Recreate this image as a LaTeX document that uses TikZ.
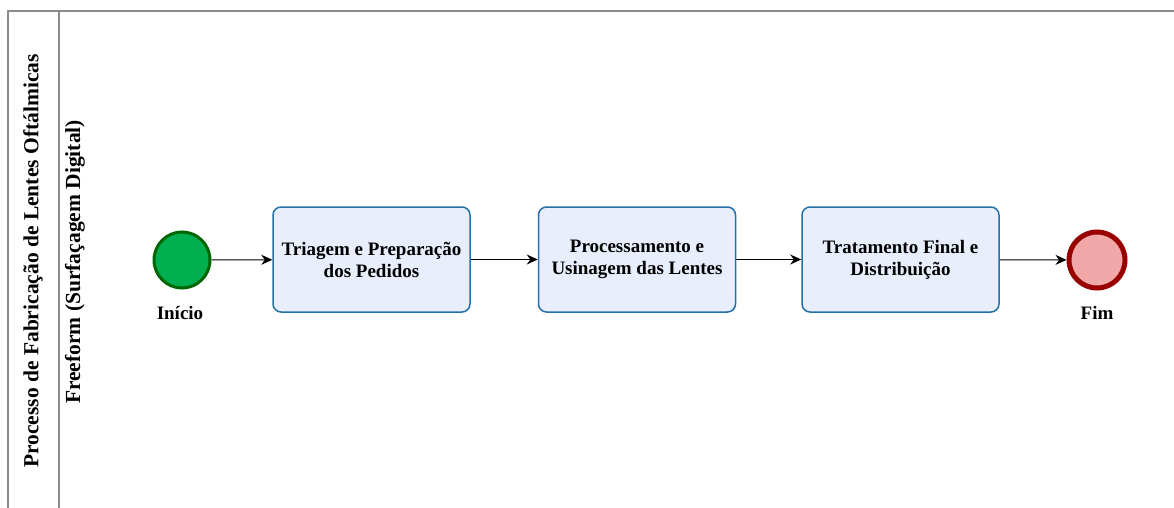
\documentclass[tikz,border=0pt]{standalone}
\usepackage{fontspec}
\setmainfont{Liberation Serif}
\usetikzlibrary{arrows.meta,positioning}
\definecolor{iniFill}{RGB}{0,176,80}
\definecolor{iniLine}{RGB}{0,102,0}
\definecolor{fimFill}{RGB}{240,168,168}
\definecolor{fimLine}{RGB}{153,0,0}
\definecolor{taskFill}{RGB}{232,238,252}
\definecolor{taskLine}{RGB}{36,112,168}
\definecolor{poolLine}{RGB}{140,140,140}
\begin{document}
\begin{tikzpicture}[x=1pt, y=-1pt, >={Stealth[length=11pt,width=10pt]},
    txt/.style={font=\bfseries\fontsize{19}{22}\selectfont},
    vtxt/.style={font=\bfseries\fontsize{21.5}{25}\selectfont, rotate=90},
    task/.style={txt, draw=taskLine, fill=taskFill, line width=1.5pt, rounded corners=8pt,
                 minimum width=197pt, minimum height=105pt, align=center},
    evento/.style={circle, minimum size=56pt, inner sep=0pt},
    pool/.style={poolLine, line width=1.3pt}]
    \useasboundingbox (0,0) rectangle (1174,508);
    % raia
    \draw[pool] (1174,11) -- (8,11) -- (8,508);
    \draw[pool] (59,11) -- (59,508);
    \node[vtxt] (pool) at (33,261) {Processo de Fabricação de Lentes Oftálmicas};
    \node[vtxt] (raia) at (75,262) {Freeform (Surfaçagem Digital)};
    % eventos e tarefas
    \node[evento, draw=iniLine, fill=iniFill, line width=3pt] (ini) at (182,260) {};
    \node[txt] (iniTxt) at (180,313) {Início};
    \node[task] (triagem) at (371.5,259.5) {Triagem e Preparação\\dos Pedidos};
    \node[task] (usinagem) at (637,259.5) {Processamento e\\Usinagem das Lentes};
    \node[task] (tratamento) at (900.5,259.5) {Tratamento Final e\\Distribuição};
    \node[evento, draw=fimLine, fill=fimFill, line width=5pt] (fim) at (1097,260) {};
    \node[txt] (fimTxt) at (1097,313) {Fim};
    % fluxo
    \draw[->, line width=1pt] (ini) -- (triagem);
    \draw[->, line width=1pt] (triagem) -- (usinagem);
    \draw[->, line width=1pt] (usinagem) -- (tratamento);
    \draw[->, line width=1pt] (tratamento) -- (fim);
\end{tikzpicture}
\end{document}
